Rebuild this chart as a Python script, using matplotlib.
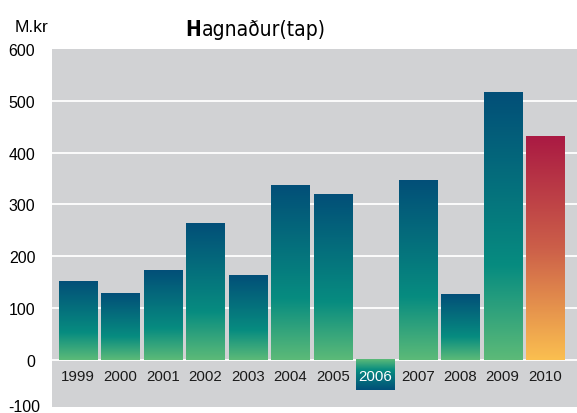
import numpy as np
import matplotlib.pyplot as plt
from matplotlib.colors import LinearSegmentedColormap

# data
years = ["1999", "2000", "2001", "2002", "2003", "2004",
         "2005", "2006", "2007", "2008", "2009", "2010"]
values = [151, 129, 172, 264, 164, 336, 320, -58, 347, 127, 517, 432]
yticks = [0, 100, 200, 300, 400, 500, 600]

blue_cmap = LinearSegmentedColormap.from_list(
    "blu", [(0.0, "#5cba78"), (0.35, "#078c80"), (1.0, "#024f78")])
red_cmap = LinearSegmentedColormap.from_list(
    "red", [(0.0, "#fbbf50"), (0.5, "#cc5f49"), (1.0, "#aa1a43")])

plt.rcParams['font.family'] = ['Liberation Sans', 'DejaVu Sans']

fig = plt.figure(figsize=(5.77, 4.14), dpi=100)
ax = fig.add_axes([52 / 577, 6 / 414, 1 - 52 / 577, 358 / 414])
ax.set_facecolor("#d1d2d4")

ymin, ymax = -91, 600
width = 0.895
grad = np.linspace(0, 1, 256).reshape(-1, 1)

for tk in yticks[:-1]:
    ax.axhline(tk, color="white", lw=1.3, zorder=1)

for i, (yr, v) in enumerate(zip(years, values)):
    cmap = red_cmap if i == len(years) - 1 else blue_cmap
    ax.imshow(grad, cmap=cmap, origin="lower", aspect="auto",
              extent=(i - width / 2, i + width / 2, 0, v), zorder=2)
    ax.text(i, -32, yr, ha="center", va="center", fontsize=10.8,
            color="white" if v < 0 else "#1a1a1a", zorder=3)

ax.set_xlim(-0.61, len(years) - 1 + 0.75)
ax.set_ylim(ymin, ymax)
ax.set_xticks([])
ax.set_yticks(yticks)
ax.set_yticklabels([str(t) for t in yticks], fontsize=11.5)
ax.tick_params(axis="y", length=0, pad=12)
ax.text(-0.0229, ymin, "-100", transform=ax.get_yaxis_transform(),
        ha="right", va="center", fontsize=11.5)
for s in ax.spines.values():
    s.set_visible(False)

fig.text(15 / 577, 1 - 28 / 414, "M.kr", fontsize=12.5, va="center")
t1 = fig.text(185 / 577, 1 - 30 / 414, "H", fontsize=15, fontweight="bold",
              va="center", family="DejaVu Sans", stretch="condensed")
fig.canvas.draw()
bb = t1.get_window_extent()
fig.text(bb.x1 / 577 + 1 / 577, 1 - 30 / 414, "agnaður(tap)", fontsize=15,
         va="center", family="DejaVu Sans", stretch="condensed")

fig.savefig("out.png", dpi=100)
